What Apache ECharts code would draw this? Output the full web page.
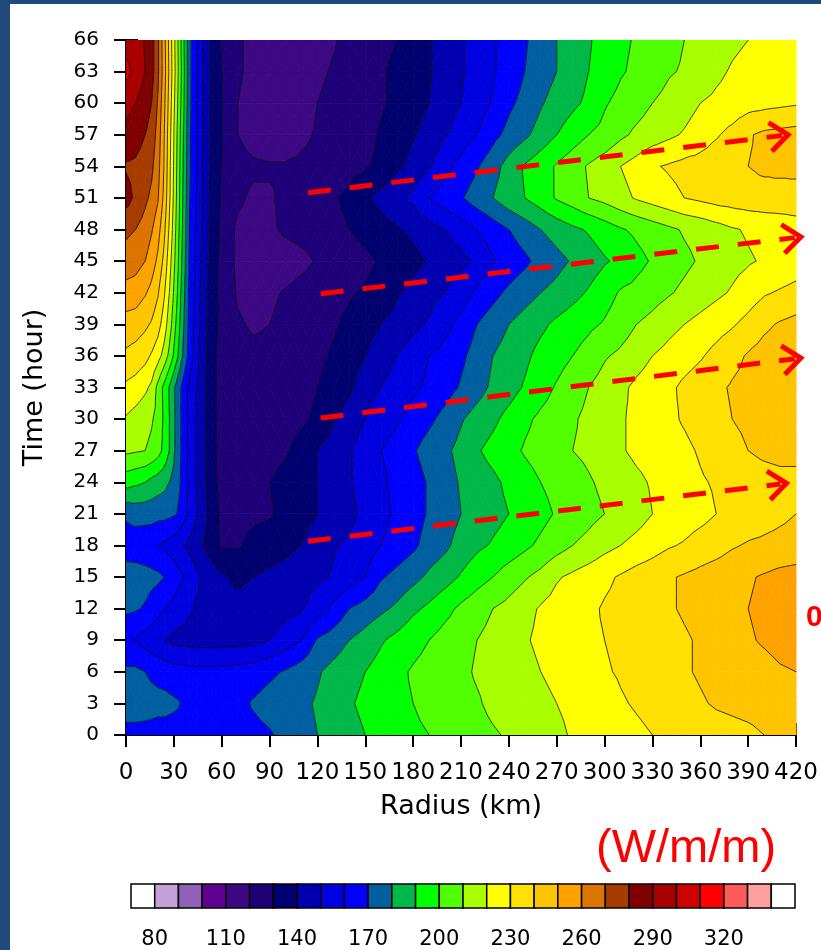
<!DOCTYPE html>
<html>
<head>
<meta charset="utf-8">
<script src="https://cdn.jsdelivr.net/npm/echarts@6/dist/echarts.min.js"></script>
<style>
  html, body { margin: 0; padding: 0; background: #fff; }
  #main { width: 821px; height: 950px; }
</style>
</head>
<body>
<div id="main"></div>
<script>
// grid of the field: radius columns (km) and time rows (hour)
var radius = [0, 6, 12, 16, 20, 24, 28, 32, 36, 40, 44, 48, 54, 60, 70, 80, 90, 100, 110, 120,
    130, 140, 150, 160, 170, 180, 190, 200, 210, 220, 230, 240, 250, 260, 270, 280, 290, 300,
    310, 320, 330, 340, 350, 360, 370, 380, 390, 400, 410, 420];
var hours = [0, 3, 6, 9, 12, 15, 18, 21, 24, 27, 30, 33, 36, 39, 42, 45, 48, 51, 54, 57, 60, 63, 66];

// values (W/m/m) read along each time row, one per radius column
var h00 = [166, 166, 166, 166, 166, 166, 166, 166, 166, 166, 166, 166, 166, 165, 166, 167, 169, 173, 177, 180,
    183, 187, 190, 193, 195, 198, 200, 202, 204, 207, 209, 211, 213, 215, 218, 221, 222, 224, 226, 228,
    230, 231, 233, 234, 236, 237, 238, 240, 241, 242];
var h03 = [176, 176, 175, 174, 173, 173, 172, 171, 169, 166, 165, 165, 165, 165, 167, 171, 174, 176, 178, 181,
    184, 189, 192, 195, 198, 200, 203, 205, 207, 209, 212, 214, 216, 218, 220, 222, 224, 226, 229, 231,
    233, 235, 237, 239, 241, 242, 243, 244, 245, 246];
var h06 = [172, 172, 170, 168, 167, 166, 165, 164, 164, 163, 163, 163, 163, 163, 164, 165, 168, 171, 175, 179,
    183, 187, 190, 194, 198, 201, 203, 205, 208, 211, 213, 215, 217, 220, 222, 224, 226, 229, 231, 233,
    235, 237, 239, 241, 243, 245, 246, 247, 249, 250];
var h09 = [161, 159, 156, 154, 152, 150, 148, 147, 147, 146, 146, 146, 146, 146, 146, 147, 150, 155, 160, 171,
    175, 180, 184, 189, 193, 197, 200, 204, 207, 210, 213, 216, 219, 222, 224, 226, 228, 230, 232, 234,
    236, 237, 239, 241, 244, 246, 249, 251, 253, 254];
var h12 = [172, 171, 169, 166, 163, 160, 158, 155, 153, 151, 149, 147, 145, 144, 143, 143, 144, 146, 149, 155,
    162, 170, 174, 178, 182, 188, 192, 197, 202, 206, 210, 213, 217, 221, 224, 226, 228, 231, 233, 235,
    237, 239, 241, 243, 245, 248, 250, 252, 254, 256];
var h15 = [176, 175, 174, 173, 172, 170, 167, 164, 160, 156, 152, 149, 145, 141, 138, 140, 142, 144, 146, 148,
    151, 155, 160, 169, 173, 177, 182, 186, 191, 196, 200, 205, 209, 213, 219, 222, 225, 228, 231, 234,
    236, 239, 241, 243, 245, 247, 249, 251, 253, 254];
var h18 = [164, 164, 163, 162, 160, 158, 156, 153, 150, 147, 144, 140, 134, 129, 129, 133, 135, 137, 140, 145,
    149, 152, 155, 160, 164, 168, 174, 178, 184, 188, 191, 194, 198, 202, 206, 210, 213, 217, 220, 223,
    226, 229, 231, 234, 236, 239, 241, 242, 243, 244];
var h21 = [172, 174, 174, 174, 173, 173, 172, 170, 164, 157, 151, 144, 135, 128, 127, 128, 129, 133, 136, 140,
    143, 147, 153, 157, 162, 166, 171, 175, 180, 183, 187, 190, 193, 197, 201, 204, 207, 210, 213, 216,
    220, 222, 225, 227, 230, 232, 234, 236, 238, 240];
var h24 = [194, 192, 190, 187, 185, 183, 179, 174, 166, 157, 150, 143, 133, 127, 127, 128, 130, 133, 136, 140,
    144, 149, 154, 158, 163, 166, 171, 176, 181, 185, 188, 192, 196, 200, 203, 206, 209, 212, 215, 218,
    221, 224, 226, 229, 231, 233, 235, 236, 237, 237];
var h27 = [212, 211, 210, 208, 204, 197, 188, 176, 166, 157, 150, 143, 133, 126, 125, 125, 127, 129, 134, 140,
    144, 149, 155, 160, 164, 169, 174, 178, 183, 189, 193, 197, 201, 204, 207, 210, 212, 215, 219, 222,
    224, 226, 228, 231, 234, 237, 240, 242, 243, 243];
var h30 = [219, 216, 213, 211, 207, 198, 188, 176, 166, 157, 150, 143, 133, 126, 124, 123, 124, 126, 128, 132,
    139, 144, 150, 155, 159, 164, 168, 173, 179, 184, 188, 193, 198, 202, 205, 209, 212, 215, 219, 222,
    225, 228, 231, 234, 237, 240, 242, 243, 244, 245];
var h33 = [228, 226, 222, 218, 207, 197, 187, 176, 166, 157, 150, 143, 133, 126, 124, 123, 123, 124, 126, 130,
    134, 138, 146, 150, 154, 158, 162, 166, 171, 176, 182, 186, 191, 196, 201, 206, 210, 214, 218, 222,
    225, 228, 232, 235, 238, 241, 243, 244, 245, 246];
var h36 = [238, 236, 233, 229, 224, 216, 205, 192, 178, 165, 155, 144, 133, 126, 123, 122, 122, 124, 126, 128,
    131, 134, 140, 145, 150, 155, 160, 163, 168, 174, 180, 184, 188, 193, 196, 200, 204, 209, 212, 216,
    220, 223, 226, 229, 233, 237, 241, 244, 246, 247];
var h39 = [246, 245, 242, 239, 234, 225, 212, 197, 181, 166, 156, 145, 134, 127, 121, 119, 120, 123, 125, 127,
    129, 132, 136, 140, 143, 147, 151, 157, 163, 170, 175, 180, 184, 188, 192, 195, 198, 201, 205, 210,
    213, 217, 220, 223, 226, 229, 233, 238, 241, 243];
var h42 = [256, 255, 251, 247, 241, 231, 217, 201, 183, 167, 157, 146, 134, 127, 119, 117, 118, 121, 124, 126,
    127, 129, 131, 134, 139, 143, 147, 150, 155, 162, 167, 172, 176, 180, 183, 187, 191, 196, 201, 203,
    206, 209, 212, 215, 218, 221, 225, 229, 231, 233];
var h45 = [266, 264, 260, 255, 248, 237, 221, 204, 185, 168, 158, 147, 135, 127, 118, 114, 113, 114, 117, 121,
    124, 126, 128, 131, 134, 137, 141, 144, 147, 152, 159, 164, 168, 173, 177, 181, 185, 189, 192, 197,
    201, 205, 208, 211, 214, 217, 219, 221, 223, 225];
var h48 = [272, 270, 266, 261, 254, 242, 225, 206, 187, 169, 159, 148, 136, 128, 118, 116, 118, 122, 124, 126,
    128, 130, 133, 136, 139, 142, 146, 150, 155, 160, 165, 170, 175, 180, 184, 188, 191, 195, 199, 202,
    205, 208, 211, 213, 216, 219, 221, 223, 225, 227];
var h51 = [284, 278, 272, 268, 261, 247, 228, 208, 188, 170, 160, 149, 136, 129, 122, 118, 119, 122, 125, 127,
    129, 132, 138, 143, 147, 152, 160, 165, 169, 175, 180, 186, 190, 195, 201, 205, 210, 213, 217, 221,
    224, 227, 230, 232, 234, 235, 236, 236, 235, 234];
var h54 = [279, 278, 275, 272, 264, 249, 229, 209, 189, 171, 161, 149, 137, 130, 124, 122, 121, 121, 122, 123,
    125, 127, 129, 132, 138, 143, 149, 157, 163, 169, 176, 184, 191, 196, 201, 206, 211, 215, 220, 224,
    229, 231, 233, 234, 236, 238, 240, 242, 243, 244];
var h57 = [287, 285, 280, 276, 266, 250, 230, 210, 190, 171, 161, 150, 137, 130, 120, 115, 113, 114, 118, 121,
    123, 125, 127, 131, 135, 139, 144, 149, 155, 160, 167, 173, 178, 184, 190, 195, 200, 203, 208, 212,
    215, 218, 221, 225, 229, 233, 239, 242, 243, 244];
var h60 = [293, 290, 285, 280, 269, 252, 232, 212, 192, 172, 161, 150, 137, 130, 120, 115, 113, 113, 116, 120,
    123, 125, 127, 129, 132, 136, 140, 145, 150, 155, 161, 168, 173, 179, 184, 188, 192, 199, 203, 206,
    210, 213, 216, 220, 222, 224, 226, 227, 228, 229];
var h63 = [303, 297, 290, 284, 272, 254, 234, 214, 193, 172, 162, 150, 137, 130, 122, 116, 114, 113, 115, 118,
    121, 124, 126, 129, 132, 136, 139, 144, 149, 153, 159, 164, 170, 175, 180, 185, 190, 194, 199, 202,
    205, 209, 211, 214, 218, 221, 223, 225, 227, 229];
var h66 = [296, 295, 289, 284, 272, 253, 233, 213, 192, 172, 162, 150, 137, 129, 122, 116, 114, 113, 114, 116,
    119, 123, 126, 128, 130, 134, 139, 145, 149, 154, 159, 164, 169, 174, 180, 184, 189, 194, 198, 201,
    204, 207, 210, 212, 215, 218, 220, 222, 224, 226];
var field = [h00, h03, h06, h09, h12, h15, h18, h21, h24, h27, h30, h33, h36, h39, h42, h45, h48, h51, h54, h57, h60, h63, h66];

// contour levels and the colour of each band (one more colour than levels)
var levels = [80, 90, 100, 110, 120, 130, 140, 150, 160, 170, 180, 190, 200, 210, 220, 230, 240,
    250, 260, 270, 280, 290, 300, 310, 320, 330, 340];
var colors = ['#FFFFFF', '#C4A0D8', '#9160B8', '#5E0090', '#3C0884', '#1E0078', '#000070', '#0000B0',
    '#0000E0', '#0000FF', '#005FA0', '#00B848', '#00FF00', '#50FF00', '#A8FF00', '#FFFF00', '#FFE000',
    '#FFC400', '#FFA200', '#DC7400', '#A63C00', '#800000', '#A80000', '#D00000', '#FF0000', '#FF5A5A',
    '#FFA0A0', '#FFFFFF'];
var barLabels = [80, 110, 140, 170, 200, 230, 260, 290, 320];

// dashed arrows: [start radius, start hour, end radius, end hour]
var arrows = [
    [114, 51.5, 415, 57.0],
    [122, 41.9, 423, 47.3],
    [122, 30.1, 423, 35.8],
    [114, 18.4, 414, 23.9]
];

// one item per grid box (four read values at its corners)
var boxes = [];
for (var ti = 0; ti < hours.length - 1; ti++) {
    for (var ri = 0; ri < radius.length - 1; ri++) {
        boxes.push([radius[ri], hours[ti], ri, ti]);
    }
}

function bandOf(v) {
    var k = 0;
    while (k < levels.length && v >= levels[k]) k++;
    return k;
}

function clipPoly(poly, lv, above) {
    var out = [];
    for (var i = 0; i < poly.length; i++) {
        var a = poly[i], b = poly[(i + 1) % poly.length];
        var ina = above ? a[2] >= lv : a[2] <= lv;
        var inb = above ? b[2] >= lv : b[2] <= lv;
        if (ina) out.push(a);
        if (ina !== inb) {
            var f = (lv - a[2]) / (b[2] - a[2]);
            out.push([a[0] + f * (b[0] - a[0]), a[1] + f * (b[1] - a[1]), lv]);
        }
    }
    return out;
}

// split a grid box into four triangles around its centre
function boxTriangles(api) {
    var ri = api.value(2), ti = api.value(3);
    var a = api.coord([radius[ri], hours[ti]]);
    var b = api.coord([radius[ri + 1], hours[ti]]);
    var c = api.coord([radius[ri + 1], hours[ti + 1]]);
    var d = api.coord([radius[ri], hours[ti + 1]]);
    var P = [
        [a[0], a[1], field[ti][ri]],
        [b[0], b[1], field[ti][ri + 1]],
        [c[0], c[1], field[ti + 1][ri + 1]],
        [d[0], d[1], field[ti + 1][ri]]
    ];
    var m = [(a[0] + c[0]) / 2, (a[1] + c[1]) / 2, (P[0][2] + P[1][2] + P[2][2] + P[3][2]) / 4];
    return [[P[0], P[1], m], [P[1], P[2], m], [P[2], P[3], m], [P[3], P[0], m]];
}

function renderFill(params, api) {
    var children = [];
    boxTriangles(api).forEach(function (tri) {
        var lo = Math.min(tri[0][2], tri[1][2], tri[2][2]);
        var hi = Math.max(tri[0][2], tri[1][2], tri[2][2]);
        for (var k = bandOf(lo); k <= bandOf(hi); k++) {
            var poly = tri;
            if (k > 0) poly = clipPoly(poly, levels[k - 1], true);
            if (k < levels.length) poly = clipPoly(poly, levels[k], false);
            if (poly.length < 3) continue;
            children.push({
                type: 'polygon',
                shape: { points: poly.map(function (p) { return [p[0], p[1]]; }) },
                style: { fill: colors[k], stroke: colors[k], lineWidth: 0.8 }
            });
        }
    });
    return { type: 'group', children: children };
}

function renderLines(params, api) {
    var children = [];
    boxTriangles(api).forEach(function (tri) {
        levels.forEach(function (lv) {
            var pts = [];
            for (var e = 0; e < 3; e++) {
                var p = tri[e], q = tri[(e + 1) % 3];
                if ((p[2] >= lv) !== (q[2] >= lv)) {
                    var f = (lv - p[2]) / (q[2] - p[2]);
                    pts.push([p[0] + f * (q[0] - p[0]), p[1] + f * (q[1] - p[1])]);
                }
            }
            if (pts.length === 2) {
                children.push({
                    type: 'line',
                    shape: { x1: pts[0][0], y1: pts[0][1], x2: pts[1][0], y2: pts[1][1] },
                    style: { stroke: '#111', lineWidth: 1, opacity: 0.8 }
                });
            }
        });
    });
    return { type: 'group', children: children };
}

function renderArrow(params, api) {
    var p0 = api.coord([api.value(0), api.value(1)]);
    var p1 = api.coord([api.value(2), api.value(3)]);
    var dx = p1[0] - p0[0], dy = p1[1] - p0[1];
    var len = Math.sqrt(dx * dx + dy * dy);
    var ux = dx / len, uy = dy / len;
    var head = 18, spread = 0.8;
    var bx = p1[0] - ux * head, by = p1[1] - uy * head;
    return {
        type: 'group',
        children: [{
            type: 'line',
            shape: { x1: p0[0], y1: p0[1], x2: p1[0] - ux * 6, y2: p1[1] - uy * 6 },
            style: { stroke: '#FF0000', lineWidth: 5, lineDash: [23, 19] }
        }, {
            type: 'polyline',
            shape: { points: [[bx - uy * head * spread, by + ux * head * spread], p1,
                [bx + uy * head * spread, by - ux * head * spread]] },
            style: { stroke: '#FF0000', lineWidth: 5, fill: null }
        }]
    };
}

function renderBox(params, api) {
    var k = api.value(0);
    var p0 = api.coord([k, 1]);
    var p1 = api.coord([k + 1, 0]);
    return {
        type: 'rect',
        shape: { x: p0[0], y: p0[1], width: p1[0] - p0[0], height: p1[1] - p0[1] },
        style: { fill: colors[k], stroke: '#000', lineWidth: 1.5 }
    };
}

var frameAxis = {
    axisLine: { show: true, lineStyle: { color: '#000', width: 2 } },
    axisTick: { show: true, inside: false, length: 12, lineStyle: { color: '#000', width: 2 } },
    splitLine: { show: false }
};
var tickFont = { color: '#000', fontFamily: 'DejaVu Sans' };

var chart = echarts.init(document.getElementById('main'));
chart.setOption({
    animation: false,
    backgroundColor: '#fff',
    grid: [
        { left: 126, top: 40, width: 674, height: 695 },
        { left: 131, top: 884, width: 664, height: 34 }
    ],
    xAxis: [
        Object.assign({
            type: 'value', gridIndex: 0, min: 0, max: 420, interval: 30, position: 'bottom',
            axisLabel: Object.assign({ fontSize: 23, margin: 27 }, tickFont),
            name: 'Radius (km)', nameLocation: 'middle', nameGap: 58,
            nameTextStyle: { fontSize: 27, color: '#000', fontFamily: 'DejaVu Sans' }
        }, frameAxis),
        Object.assign({
            type: 'value', gridIndex: 0, min: 0, max: 420, interval: 30, position: 'top',
            axisLabel: { show: false }
        }, frameAxis),
        {
            type: 'value', gridIndex: 1, min: 0, max: 28, interval: 1,
            axisLine: { show: false }, axisTick: { show: false }, splitLine: { show: false },
            axisLabel: Object.assign({
                fontSize: 21, margin: 21,
                formatter: function (v) {
                    if (v < 1 || v > levels.length) return '';
                    var lv = levels[v - 1];
                    return barLabels.indexOf(lv) >= 0 ? String(lv) : '';
                }
            }, tickFont)
        }
    ],
    yAxis: [
        Object.assign({
            type: 'value', gridIndex: 0, min: 0, max: 66, interval: 3, position: 'left',
            axisLabel: Object.assign({ fontSize: 20, margin: 27 }, tickFont),
            name: 'Time (hour)', nameLocation: 'middle', nameGap: 78,
            nameTextStyle: { fontSize: 27, color: '#000', fontFamily: 'DejaVu Sans' }
        }, frameAxis),
        Object.assign({
            type: 'value', gridIndex: 0, min: 0, max: 66, interval: 3, position: 'right',
            axisLabel: { show: false }
        }, frameAxis),
        { type: 'value', gridIndex: 1, min: 0, max: 1, show: false }
    ],
    series: [
        {
            type: 'custom', xAxisIndex: 0, yAxisIndex: 0, clip: true,
            encode: { x: 0, y: 1 },
            renderItem: renderFill,
            data: boxes,
            z: 1
        },
        {
            type: 'custom', xAxisIndex: 0, yAxisIndex: 0, clip: true,
            encode: { x: 0, y: 1 },
            renderItem: renderLines,
            data: boxes,
            z: 2
        },
        {
            type: 'custom', xAxisIndex: 0, yAxisIndex: 0, clip: false,
            encode: { x: [0, 2], y: [1, 3] },
            renderItem: renderArrow,
            data: arrows,
            z: 5
        },
        {
            type: 'custom', xAxisIndex: 2, yAxisIndex: 2,
            encode: { x: 0 },
            renderItem: renderBox,
            data: colors.map(function (c, k) { return [k]; })
        }
    ],
    graphic: [
        { type: 'rect', left: 0, top: 0, shape: { width: 10, height: 950 }, style: { fill: '#1F4A7A' } },
        { type: 'rect', left: 0, top: 0, shape: { width: 821, height: 4 }, style: { fill: '#1F4A7A' } },
        {
            type: 'text', left: 596, top: 826,
            style: { text: '(W/m/m)', fill: '#FF0000', font: '47px "Liberation Sans"' }
        },
        {
            type: 'text', left: 806, top: 603,
            style: { text: '0', fill: '#FF0000', font: 'bold 30px "Liberation Sans"' }
        }
    ]
});
</script>
</body>
</html>
